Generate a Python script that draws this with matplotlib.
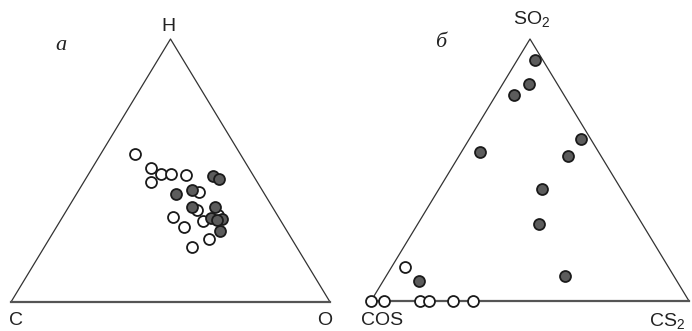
import numpy as np
import matplotlib
matplotlib.use('Agg')
import matplotlib.pyplot as plt

plt.rcParams['mathtext.fontset'] = 'custom'
plt.rcParams['mathtext.rm'] = 'Liberation Sans'
plt.rcParams['mathtext.it'] = 'Liberation Sans'

# panel a: atomic fractions H, O (C = 1 - H - O)
a_open_H = [0.563, 0.511, 0.486, 0.486, 0.484, 0.456, 0.418, 0.350, 0.324, 0.309, 0.286, 0.331, 0.240, 0.210]
a_open_O = [0.107, 0.183, 0.227, 0.258, 0.307, 0.211, 0.380, 0.407, 0.347, 0.448, 0.399, 0.484, 0.501, 0.463]
a_fill_H = [0.480, 0.468, 0.411, 0.426, 0.362, 0.360, 0.318, 0.316, 0.312, 0.271]
a_fill_O = [0.394, 0.418, 0.312, 0.353, 0.385, 0.459, 0.467, 0.503, 0.489, 0.520]

# panel b: fractions SO2, CS2 (COS = 1 - SO2 - CS2)
b_open_SO2 = [0.131, 0.0, 0.0, 0.0, 0.0, 0.0, 0.0]
b_open_CS2 = [0.041, 0.0, 0.042, 0.154, 0.183, 0.259, 0.320]
b_fill_SO2 = [0.918, 0.827, 0.786, 0.619, 0.569, 0.554, 0.428, 0.293, 0.096, 0.076]
b_fill_CS2 = [0.058, 0.084, 0.057, 0.350, 0.057, 0.344, 0.325, 0.381, 0.561, 0.114]

W, H = 692, 331
fig = plt.figure(figsize=(W / 100, H / 100), dpi=100)
fig.patch.set_facecolor('white')

def tern(top, right):
    top = np.asarray(top)
    right = np.asarray(right)
    return right + top / 2, top

def panel(rect, open_top, open_right, fill_top, fill_right):
    ax = fig.add_axes(rect)
    ax.set_xlim(0, 1)
    ax.set_ylim(0, 1)
    ax.axis('off')
    ax.plot([0, 1, 0.5, 0], [0, 0, 1, 0], color='#333333', lw=0.9, clip_on=False)
    ax.plot([0, 1], [0, 0], color='#555555', lw=1.6, clip_on=False)
    x, y = tern(open_top, open_right)
    ax.scatter(x, y, s=62, facecolor='white', edgecolor='#1a1a1a', linewidth=1.3, zorder=3, clip_on=False)
    x, y = tern(fill_top, fill_right)
    ax.scatter(x, y, s=62, facecolor='#5c5c5c', edgecolor='#1a1a1a', linewidth=1.3, zorder=4, clip_on=False)
    return ax

axa = panel([11 / W, 29 / H, 319 / W, 263 / H], a_open_H, a_open_O, a_fill_H, a_fill_O)
axb = panel([371 / W, 30 / H, 318 / W, 262 / H], b_open_SO2, b_open_CS2, b_fill_SO2, b_fill_CS2)

lab = dict(fontsize=14, family='Liberation Sans', color='#222222', clip_on=False)
axa.text(0.492, 1.046, 'H', ha='center', va='center', transform=axa.transAxes, **lab)
axa.text(0.016, -0.072, 'C', ha='center', va='center', transform=axa.transAxes, **lab)
axa.text(0.982, -0.072, 'O', ha='center', va='center', transform=axa.transAxes, **lab)
axa.text(0.157, 0.977, 'a', ha='center', va='center', transform=axa.transAxes,
         fontsize=16, family='Liberation Serif', style='italic', color='#222222')

axb.text(0.445, 1.075, 'SO$_2$', ha='left', va='center', transform=axb.transAxes, **lab)
axb.text(0.035, -0.073, 'COS', ha='center', va='center', transform=axb.transAxes, **lab)
axb.text(0.874, -0.075, 'CS$_2$', ha='left', va='center', transform=axb.transAxes, **lab)
axb.text(0.22, 0.985, 'б', ha='center', va='center', transform=axb.transAxes,
         fontsize=16, family='Liberation Serif', style='italic', color='#222222')

fig.savefig('out.png', dpi=100)
